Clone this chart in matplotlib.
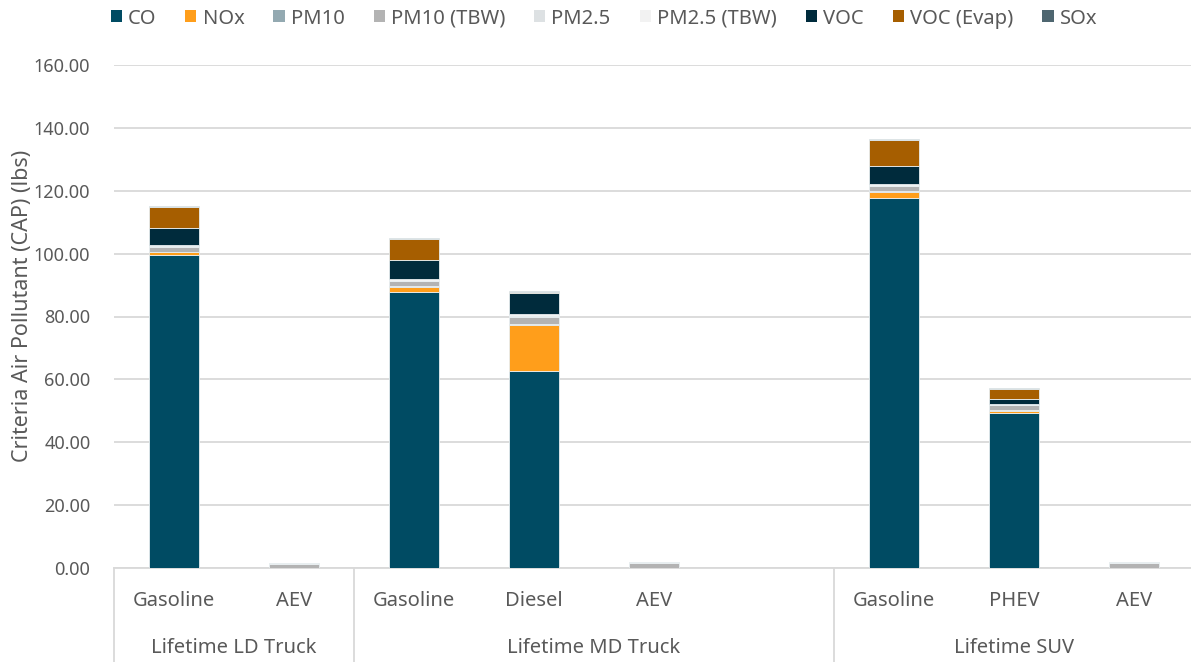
import matplotlib
matplotlib.use("Agg")
import matplotlib.pyplot as plt
from matplotlib.transforms import blended_transform_factory
from matplotlib.patches import Patch

plt.rcParams["font.family"] = ["Noto Sans", "DejaVu Sans"]

# ── Datos ───────────────────────────────────────────────────────────────────
sub_labels = ["Gasoline", "AEV", "Gasoline", "Diesel", "AEV", "",
              "Gasoline", "PHEV", "AEV"]
groups = ["Lifetime LD Truck", "Lifetime MD Truck", "Lifetime SUV"]
group_spans = [(0, 2), (2, 6), (6, 9)]   # slots [inicio, fin)

pollutants = ["CO", "NOx", "PM10", "PM10 (TBW)", "PM2.5", "PM2.5 (TBW)",
              "VOC", "VOC (Evap)", "SOx"]

co        = [99.6, 0.0, 87.9, 62.8, 0.0, 0.0, 117.6, 49.4, 0.0]
nox       = [0.9, 0.0, 1.6, 14.5, 0.0, 0.0, 2.1, 0.6, 0.0]
pm10      = [0.1, 0.0, 0.1, 0.2, 0.0, 0.0, 0.1, 0.1, 0.0]
pm10_tbw  = [1.6, 1.2, 1.6, 2.3, 1.5, 0.0, 1.6, 1.6, 1.5]
pm25      = [0.1, 0.0, 0.1, 0.2, 0.0, 0.0, 0.1, 0.1, 0.0]
pm25_tbw  = [0.5, 0.4, 0.5, 0.8, 0.5, 0.0, 0.5, 0.5, 0.5]
voc       = [5.2, 0.0, 6.3, 6.6, 0.0, 0.0, 6.0, 1.6, 0.0]
voc_evap  = [6.8, 0.0, 6.6, 0.5, 0.0, 0.0, 8.1, 3.0, 0.0]
sox       = [0.3, 0.0, 0.3, 0.2, 0.0, 0.0, 0.5, 0.4, 0.0]

series = [co, nox, pm10, pm10_tbw, pm25, pm25_tbw, voc, voc_evap, sox]
colors = ["#004b63", "#ff9e1b", "#93a9b1", "#b3b3b3", "#dde1e3",
          "#f2f2f2", "#002b3c", "#a65e00", "#4e6670"]

TEXT = "#595959"
GRID = "#d9d9d9"

# ── Figura ──────────────────────────────────────────────────────────────────
fig = plt.figure(figsize=(11.91, 6.62), dpi=100)
ax = fig.add_axes([114 / 1191, 94 / 662, 1080 / 1191, 503 / 662])

x = list(range(len(sub_labels)))
bottom = [0.0] * len(x)
for name, vals, col in zip(pollutants, series, colors):
    ax.bar(x, vals, bottom=bottom, width=0.42, color=col,
           edgecolor="#e8eef0", linewidth=0.6, label=name, zorder=3)
    bottom = [b + v for b, v in zip(bottom, vals)]

ax.set_xlim(-0.5, len(x) - 0.5)
ax.set_ylim(0, 160)
ax.set_yticks(range(0, 161, 20))
ax.set_yticklabels([f"{v:.2f}" for v in range(0, 161, 20)])
ax.tick_params(axis="y", length=0, colors=TEXT, labelsize=13, pad=17)
ax.set_xticks([])
ax.grid(axis="y", color=GRID, linewidth=1.3, zorder=0)
for s in ["top", "right", "left"]:
    ax.spines[s].set_visible(False)
ax.spines["bottom"].set_color(GRID)
ax.spines["bottom"].set_linewidth(1.3)

ax.set_ylabel("Criteria Air Pollutant (CAP) (lbs)", color=TEXT, fontsize=15.5)
ax.yaxis.set_label_coords(-0.075, 0.521)

# Etiquetas de categoría en dos niveles
trans = blended_transform_factory(ax.transData, ax.transAxes)
for i, lab in enumerate(sub_labels):
    ax.text(i, -0.066, lab, transform=trans, ha="center", va="center",
            fontsize=14.5, color=TEXT)
for name, (a, b) in zip(groups, group_spans):
    ax.text((a + b - 1) / 2, -0.16, name, transform=trans, ha="center",
            va="center", fontsize=14.5, color=TEXT)
for edge in [0, 2, 6, 9]:
    ax.plot([edge - 0.5, edge - 0.5], [0, -0.19], transform=trans,
            color=GRID, linewidth=1.3, clip_on=False)

# Leyenda
handles = [Patch(facecolor=c, edgecolor="none", label=p)
           for p, c in zip(pollutants, colors)]
fig.legend(handles=handles, loc="center", bbox_to_anchor=(0.507, 0.972),
           ncol=9, frameon=False, fontsize=14.5, labelcolor=TEXT,
           handlelength=0.55, handleheight=0.55, handletextpad=0.3,
           columnspacing=1.45)

fig.savefig("out.png", dpi=100)
